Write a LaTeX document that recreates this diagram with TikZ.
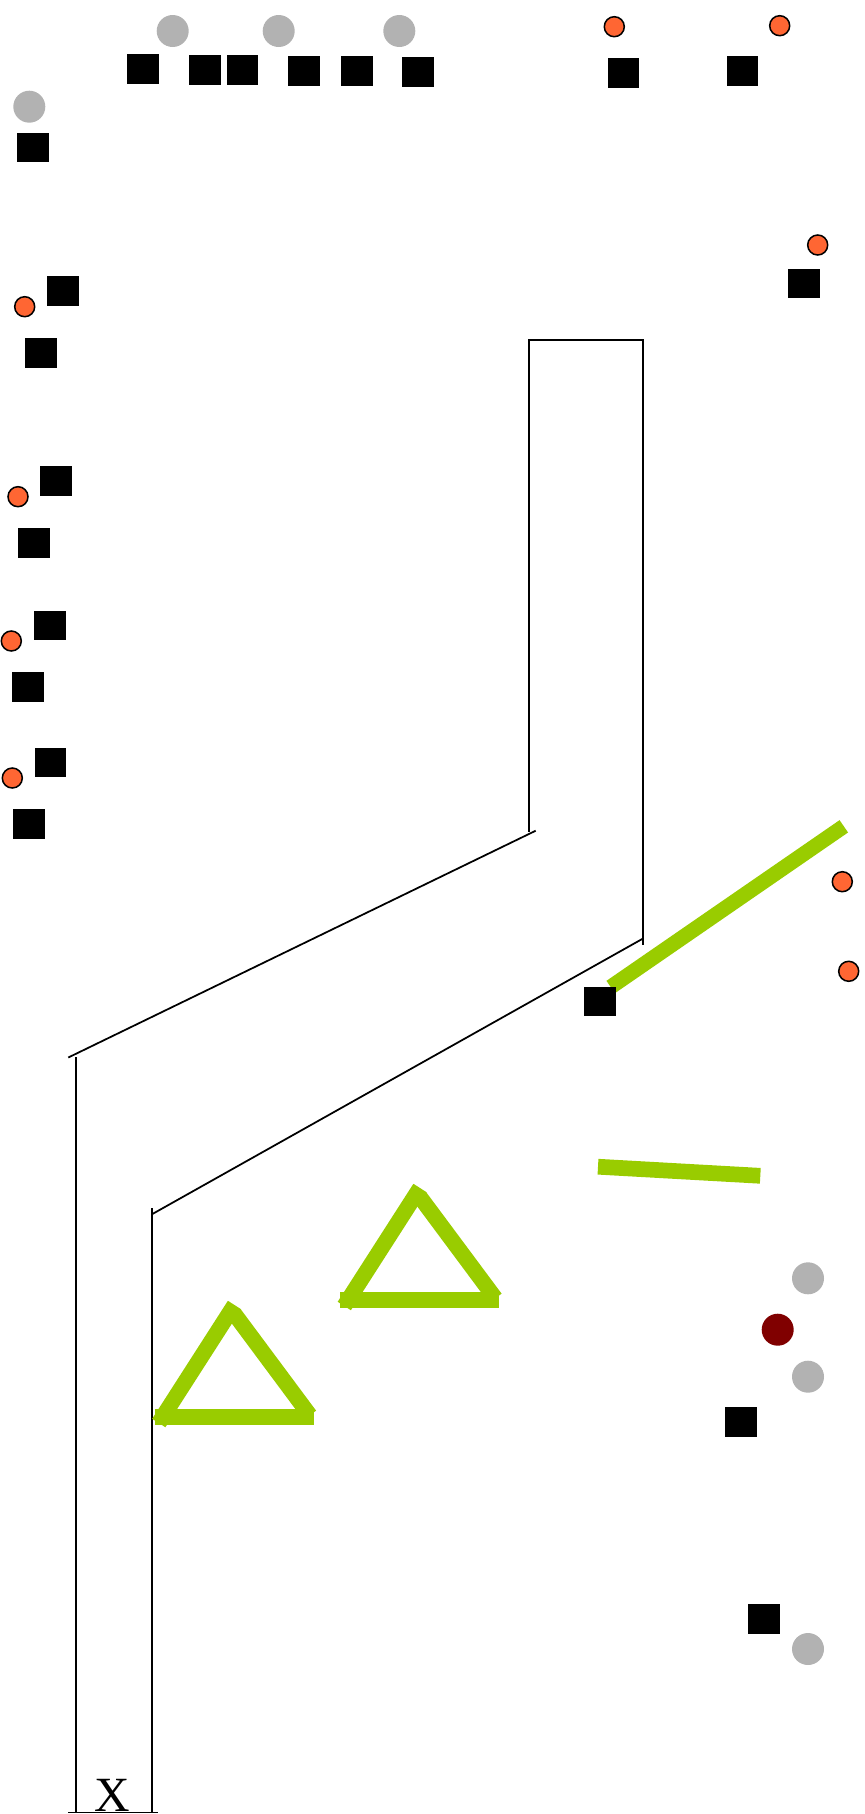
\documentclass[tikz,border=0pt]{standalone}
\usepackage{fontspec}
\setmainfont{Liberation Serif}
\definecolor{dotorange}{HTML}{FF6633}
\definecolor{dotgray}{HTML}{B2B2B2}
\definecolor{dotred}{HTML}{800000}
\definecolor{bargreen}{HTML}{99CC00}

\begin{document}
\begin{tikzpicture}[x=0.03cm,y=-0.03cm,
  blk/.style={draw=none,fill=black,inner sep=0pt,minimum width=0.95cm,minimum height=0.88cm},
  graydot/.style={circle,fill=dotgray,inner sep=0pt,minimum size=0.96cm},
  reddot/.style={circle,fill=dotred,inner sep=0pt,minimum size=0.96cm},
  orangedot/.style={circle,draw=black,line width=1.3pt,fill=dotorange,inner sep=0pt,minimum size=0.6cm},
  wall/.style={line width=1.5pt},
  bar/.style={line width=13.4pt,draw=bargreen}]
\useasboundingbox (0,0) rectangle (864,1814);

% Walls
\draw[wall] (529.3,831.7) -- (529.3,340) -- (643,340) -- (643,945);
\draw[wall] (68.3,1057.5) -- (535.7,830.7);
\draw[wall] (151.5,1214.5) -- (642.7,938.7);
\draw[wall] (76,1057) -- (76,1812.5);
\draw[wall] (151.7,1208) -- (151.7,1812.5);
\draw[wall] (68.3,1812.4) -- (158.3,1812.4);

% Green bars
\draw[bar,line width=12.8pt] (843.8,826.3) -- (610.7,987);
\draw[bar] (598,1166.7) -- (760.3,1175.8);

% Green triangles
\foreach \dx/\dy in {0/0,-185.5/117} {
  \begin{scope}[shift={(\dx,\dy)}]
    \draw[bar] (344.3,1306) -- (420,1188);
    \draw[bar] (420,1197) -- (495.3,1298.3);
    \draw[bar] (340,1300) -- (499,1300);
  \end{scope}
}

% Black squares
\foreach \x/\y [count=\i] in {143/69,205/70,242.5/70,304/71,356.7/71,418/72,623.5/73,742.5/71,
  804/283.5,33/147.5,63/291,41/353,56/481,34.3/543,50/625.7,28/687,50.5/762.5,29/824,
  600/1001.5,741/1422,764/1619} {
  \node[blk] (sq\i) at (\x,\y) {};
}

% Grey dots
\foreach \x/\y [count=\i] in {172.7/31,278.7/31,399.3/31,29.3/106.7,808/1278.3,808/1376.7,808/1649} {
  \node[graydot] (gray\i) at (\x,\y) {};
}
\node[reddot] (red) at (777.7,1329.7) {};

% Orange dots
\foreach \x/\y [count=\i] in {614.3/26.7,779.7/25.7,817.7/245,24.7/306.7,18/496.7,11.3/641,12.3/778,
  842.3/881.7,848.7/971.3} {
  \node[orangedot] (dot\i) at (\x,\y) {};
}

\node[anchor=base,inner sep=0pt,font=\fontsize{42}{42}\selectfont] (xlabel) at (111.8,1811) {X};
\end{tikzpicture}
\end{document}
